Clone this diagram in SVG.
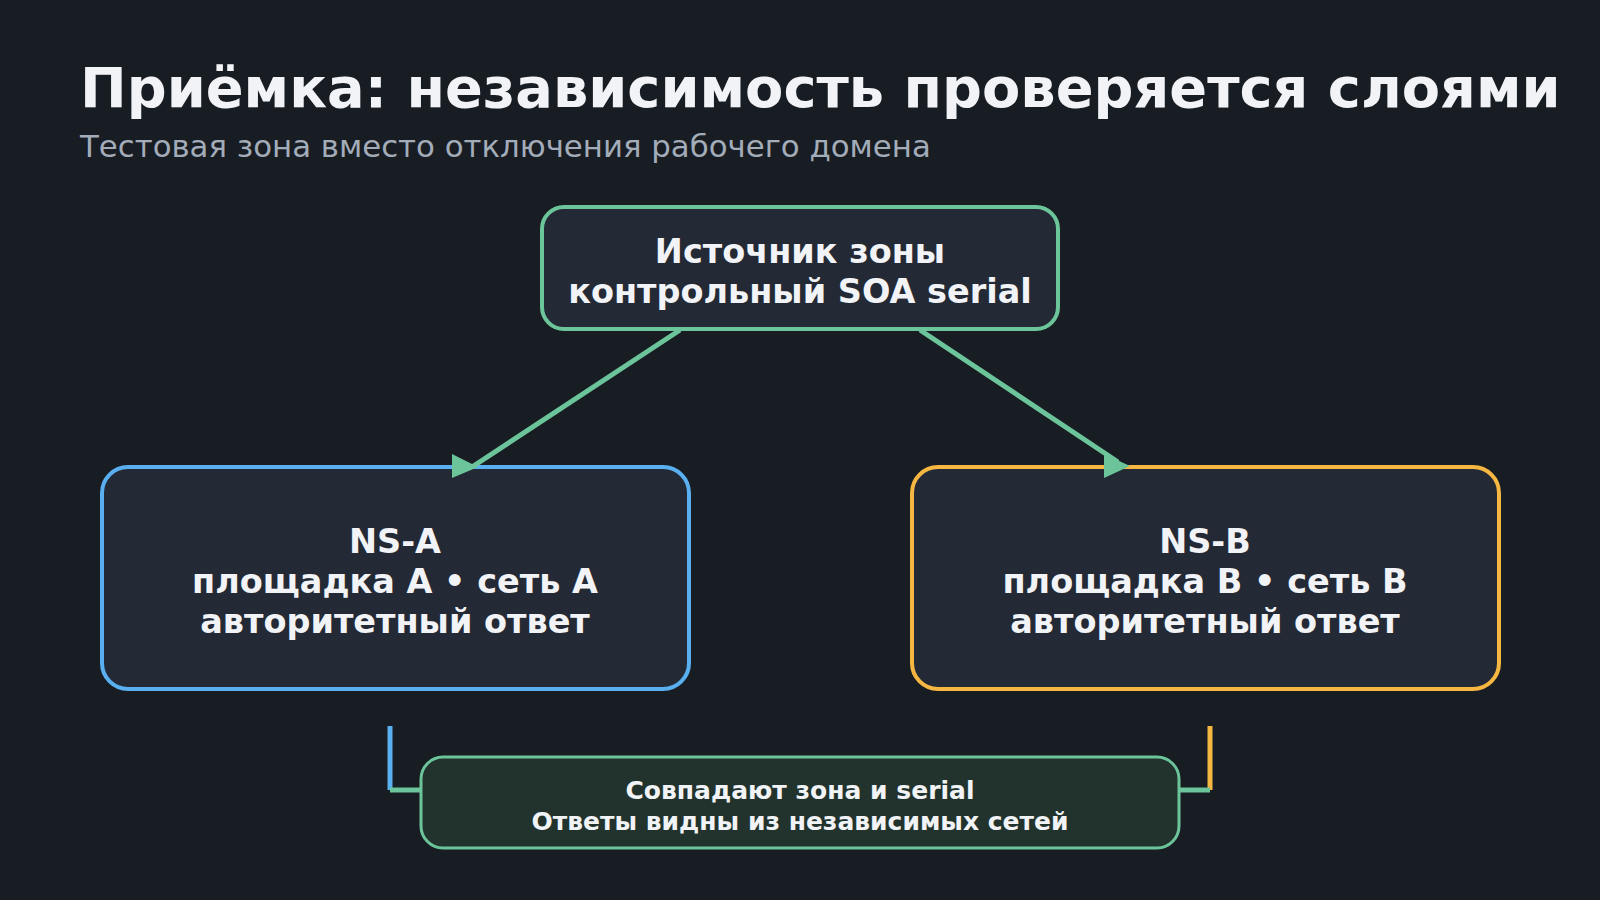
<svg xmlns="http://www.w3.org/2000/svg" width="1600" height="900" viewBox="0 0 1600 900">
<defs>
<style>
.t{font-family:"DejaVu Sans",sans-serif;fill:#f1f3f6;font-weight:bold;text-anchor:middle}
.box{fill:#232a35;stroke-width:4}
</style>
</defs>
<rect width="1600" height="900" fill="#181c23"/>
<text x="80" y="107" font-family="DejaVu Sans,sans-serif" font-weight="bold" font-size="55.8" fill="#f1f3f6">Приёмка: независимость проверяется слоями</text>
<text x="80" y="157" font-family="DejaVu Sans,sans-serif" font-size="30.8" fill="#a3acb9">Тестовая зона вместо отключения рабочего домена</text>
<g id="source">
<rect class="box" x="542" y="207" width="516" height="122" rx="22" stroke="#6cc59a"/>
<text class="t" x="800" y="263" font-size="33.5">Источник зоны</text>
<text class="t" x="800" y="303" font-size="33.5">контрольный SOA serial</text>
</g>
<g id="nsa">
<rect class="box" x="102" y="467" width="587" height="222" rx="26" stroke="#5aaff0"/>
<text class="t" x="395" y="553" font-size="33.5">NS-A</text>
<text class="t" x="395" y="593" font-size="33.5">площадка A • сеть A</text>
<text class="t" x="395" y="633" font-size="33.5">авторитетный ответ</text>
</g>
<g id="nsb">
<rect class="box" x="912" y="467" width="587" height="222" rx="26" stroke="#f5b642"/>
<text class="t" x="1205" y="553" font-size="33.5">NS-B</text>
<text class="t" x="1205" y="593" font-size="33.5">площадка B • сеть B</text>
<text class="t" x="1205" y="633" font-size="33.5">авторитетный ответ</text>
</g>
<g id="check">
<rect x="421" y="757" width="758" height="91" rx="22" fill="#22332d" stroke="#6cc59a" stroke-width="3"/>
<text class="t" x="800" y="799" font-size="25">Совпадают зона и serial</text>
<text class="t" x="800" y="830" font-size="25">Ответы видны из независимых сетей</text>
</g>
<g id="connectors" stroke-width="5" fill="none">
<line x1="680" y1="330" x2="472" y2="467" stroke="#6cc59a"/>
<path d="M452,454 L478,467 L452,478 Z" fill="#6cc59a" stroke="none"/>
<line x1="920" y1="330" x2="1118" y2="462" stroke="#6cc59a"/>
<path d="M1104,454 L1130,466 L1104,478 Z" fill="#6cc59a" stroke="none"/>
<path d="M390,726 V790" stroke="#5aaff0"/>
<path d="M390,790 H421" stroke="#6cc59a"/>
<path d="M1210,726 V790" stroke="#f5b642"/>
<path d="M1179,790 H1210" stroke="#6cc59a"/>
</g>
</svg>
